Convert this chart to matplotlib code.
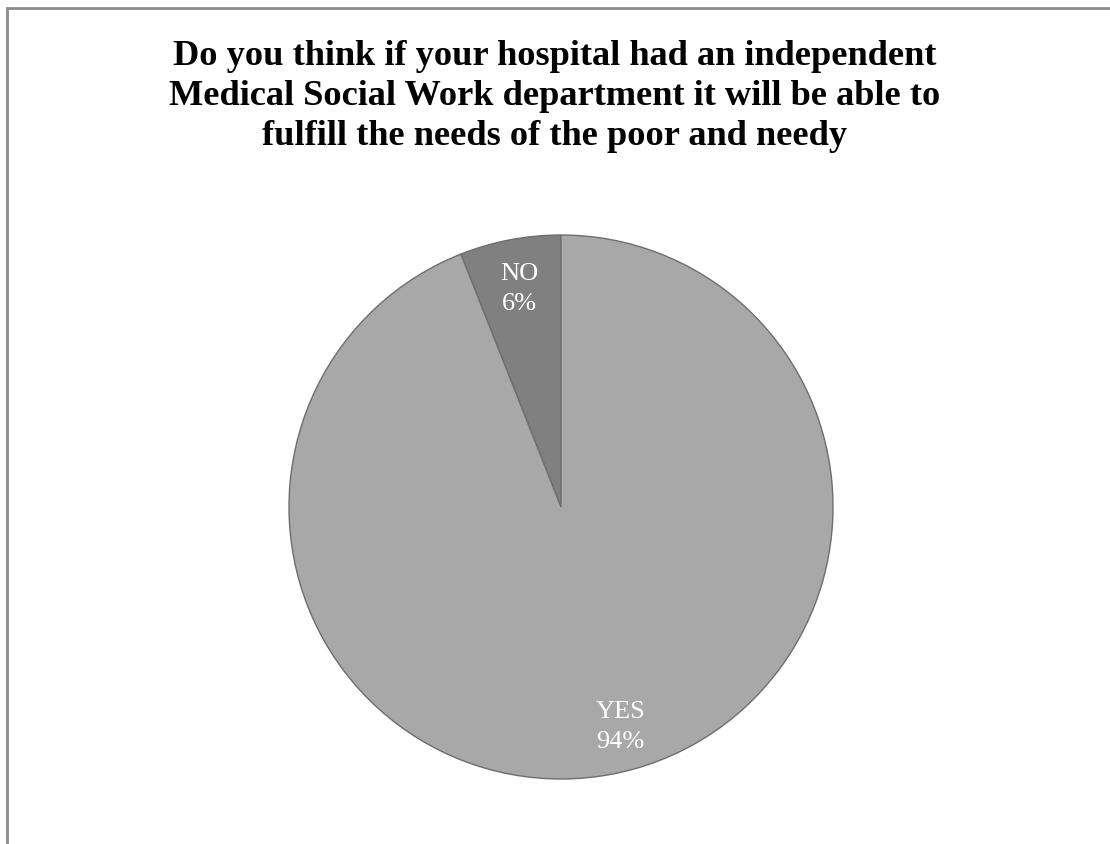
import matplotlib.pyplot as plt
from matplotlib.patches import Rectangle

labels = ['NO', 'YES']
values = [6, 94]
colors = ['#808080', '#a8a8a8']

plt.rcParams['font.family'] = ['Liberation Serif', 'DejaVu Serif']

fig = plt.figure(figsize=(11.1, 8.45), dpi=100)

# chart border, cut off on the right and bottom
fig.patches.append(Rectangle((7 / 1110, -0.05), 1.1, 1 - 9 / 845 + 0.05,
                             transform=fig.transFigure, fill=False,
                             edgecolor='#8c8c8c', linewidth=2))

fig.text(0.5, 0.953, 'Do you think if your hospital had an independent\n'
         'Medical Social Work department it will be able to\n'
         'fulfill the needs of the poor and needy',
         ha='center', va='top', fontsize=26.2, fontweight='bold',
         linespacing=1.29)

ax = fig.add_axes([289 / 1110, (845 - 780) / 845, 544 / 1110, 544 / 845])

names = iter(labels)
wedges, texts, autotexts = ax.pie(
    values, colors=colors, startangle=90, counterclock=True,
    autopct=lambda p: '%s\n%d%%' % (next(names), round(p)),
    pctdistance=0.82,
    wedgeprops=dict(edgecolor='#6e6e6e', linewidth=1.0),
    textprops=dict(color='white', fontsize=19, linespacing=1.45))
# the big slice's label sits a little right of its bisector
x, y = autotexts[1].get_position()
autotexts[1].set_position((x + 0.065, y))
ax.set_aspect('equal')
ax.set_xlim(-1, 1)
ax.set_ylim(-1, 1)

fig.savefig('out.png', dpi=100)
